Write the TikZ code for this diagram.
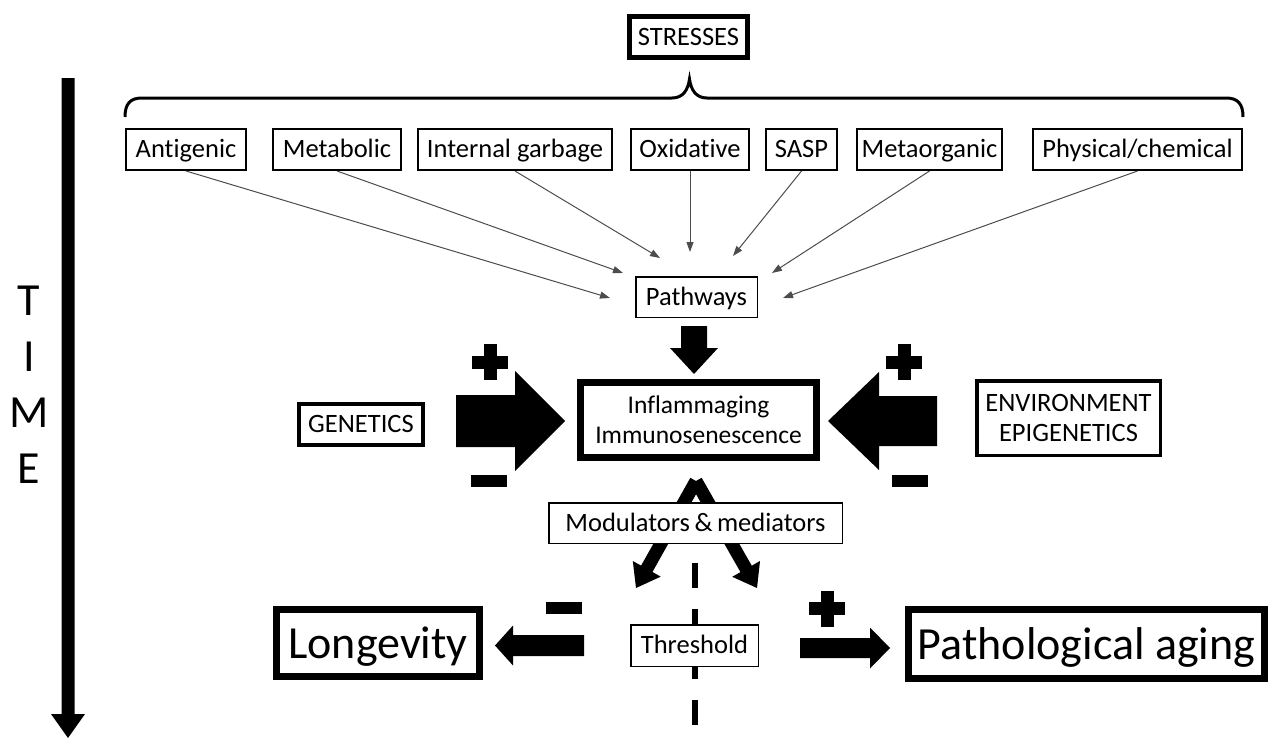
\documentclass[tikz,border=0pt]{standalone}
\usepackage{fontspec}
\setmainfont{Carlito}[Ligatures=NoCommon]
\usetikzlibrary{arrows.meta,calc}
\newcommand{\fatarrow}[5]{%
  \coordinate (fa-hb) at ($(#2)!#5!(#1)$);
  \fill ($(#1)!#3!90:(#2)$) -- ($(fa-hb)!#3!90:(#2)$) -- ($(fa-hb)!#4!90:(#2)$) -- (#2)
     -- ($(fa-hb)!#4!-90:(#2)$) -- ($(fa-hb)!#3!-90:(#2)$) -- ($(#1)!#3!-90:(#2)$) -- cycle;
}
\newcommand{\plusat}[2]{\fill (#1-18,#2-6.5) rectangle (#1+18,#2+6.5); \fill (#1-6.5,#2-18) rectangle (#1+6.5,#2+18);}
\newcommand{\minusat}[2]{\fill (#1-18,#2-6) rectangle (#1+18,#2+6);}
\begin{document}
\begin{tikzpicture}[x=1pt,y=-1pt,
  every node/.style={inner sep=0pt, align=center},
  f26/.style={font=\fontsize{26.5}{30}\selectfont},
  one/.style={text height=21pt, text depth=4.5pt},
  big/.style={font=\fontsize{46}{52}\selectfont, text height=38pt, text depth=7pt},
  sbox/.style={draw, line width=1.6pt, minimum height=41.4pt, f26, one},
  pbox/.style={draw, fill=white, line width=1.5pt, minimum height=40.5pt, f26, one},
  thinarr/.style={draw=black!70, line width=1pt, -{Triangle[length=10pt,width=7pt]}},
  letter/.style={font=\fontsize{46}{52}\selectfont},
]
\useasboundingbox (0,0) rectangle (1272,739);

% TIME axis
\coordinate (time0) at (68,78);
\coordinate (time1) at (68,738);
\fatarrow{time0}{time1}{6.5pt}{17pt}{24pt}
\node[letter] (tT) at (29,301) {T};
\node[letter] (tI) at (29,357) {I};
\node[letter] (tM) at (29,413) {M};
\node[letter] (tE) at (29,469) {E};

% STRESSES and brace
\node[draw, line width=5pt, minimum width=118pt, minimum height=41pt, f26, one] (stresses) at (688.5,37) {STRESSES};
\draw[line width=3pt] (125,117) .. controls (125,104) and (130,98) .. (142,98) -- (672,98)
  .. controls (683,98) and (688,90) .. (689.5,79)
  .. controls (691,90) and (696,98) .. (707,98) -- (1226,98)
  .. controls (1238,98) and (1243,104) .. (1243,117);

% stress boxes
\node[sbox, minimum width=120.4pt] (antigenic) at (186,149.5) {Antigenic};
\node[sbox, minimum width=128.4pt] (metabolic) at (337,149.5) {Metabolic};
\node[sbox, minimum width=194.4pt] (garbage) at (515,149.5) {Internal garbage};
\node[sbox, minimum width=118.4pt] (oxidative) at (690,149.5) {Oxidative};
\node[sbox, minimum width=71.4pt] (sasp) at (801.5,149.5) {SASP};
\node[sbox, minimum width=145.4pt] (metaorganic) at (929.5,149.5) {Metaorganic};
\node[sbox, minimum width=209.4pt] (physical) at (1137.5,149.5) {Physical/chemical};

% pathways
\node[pbox, minimum width=121.5pt] (pathways) at (696.5,297) {Pathways};
\coordinate (e1) at (610,298);
\coordinate (e2) at (623,273);
\coordinate (e3) at (660,258);
\coordinate (e4) at (690,252);
\coordinate (e5) at (733,256);
\coordinate (e6) at (772,273);
\coordinate (e7) at (783,298);
\draw[thinarr] (antigenic.south) -- (e1);
\draw[thinarr] (metabolic.south) -- (e2);
\draw[thinarr] (garbage.south) -- (e3);
\draw[thinarr] (oxidative.south) -- (e4);
\draw[thinarr] (sasp.south) -- (e5);
\draw[thinarr] (metaorganic.south) -- (e6);
\draw[thinarr] (physical.south) -- (e7);

% central box
\node[draw, line width=7pt, minimum width=236pt, minimum height=75pt, font=\fontsize{25.5}{30}\selectfont] (inflam) at (698.5,420) {Inflammaging\\Immunosenescence};
\coordinate (pw0) at (694,326);
\coordinate (pw1) at (694,374);
\fatarrow{pw0}{pw1}{13pt}{24pt}{26pt}

% genetics
\node[draw, line width=4pt, minimum width=124pt, minimum height=41pt, f26, one] (genetics) at (361,424.5) {GENETICS};
\coordinate (g0) at (456,421);
\coordinate (g1) at (565,421);
\fatarrow{g0}{g1}{26pt}{50pt}{50pt}
\plusat{490}{362}
\minusat{488.5}{481}

% environment
\node[draw, line width=3.5pt, minimum width=183.5pt, minimum height=74.5pt, font=\fontsize{26.5}{30}\selectfont] (env) at (1068.5,418) {ENVIRONMENT\\EPIGENETICS};
\coordinate (v0) at (937,421);
\coordinate (v1) at (828,421);
\fatarrow{v0}{v1}{25pt}{49pt}{51pt}
\plusat{904}{362}
\minusat{910}{480.5}

% modulators
\coordinate (m0) at (696,481);
\coordinate (mL) at (636,588);
\coordinate (mR) at (757,588);
\fatarrow{m0}{mL}{6.5pt}{16pt}{22pt}
\fatarrow{m0}{mR}{6.5pt}{16pt}{22pt}
\node[pbox, minimum width=293.5pt] (modul) at (695.5,523) {Modulators\,\&\,mediators};

% threshold
\coordinate (d0) at (694.5,563);
\coordinate (d1) at (694.5,726);
\draw[line width=6pt, dash pattern=on 25pt off 20.5pt] (d0) -- (d1);
\node[pbox, minimum width=127.5pt, minimum height=41.5pt] (threshold) at (694.5,645.5) {Threshold};

% outcomes
\node[draw, line width=7pt, minimum width=203pt, minimum height=67pt, big] (longevity) at (378,643) {Longevity};
\node[draw, line width=7pt, minimum width=356pt, minimum height=69pt, big] (patho) at (1086.5,644) {Pathological aging};
\coordinate (l0) at (584,645.5);
\coordinate (l1) at (495,645.5);
\fatarrow{l0}{l1}{10.5pt}{20pt}{18pt}
\minusat{564}{608}
\coordinate (p0) at (800,648);
\coordinate (p1) at (890,648);
\fatarrow{p0}{p1}{10pt}{20.5pt}{20pt}
\plusat{827}{608.5}
\end{tikzpicture}
\end{document}
